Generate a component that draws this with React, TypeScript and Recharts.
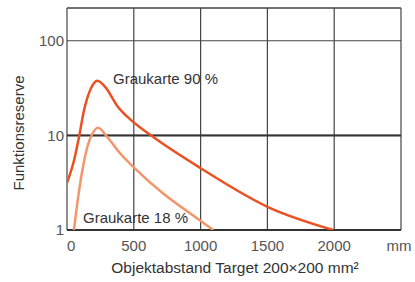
import { LineChart, Line, XAxis, YAxis, CartesianGrid, ReferenceLine } from 'recharts'

// Graukarte 90 % (log scale)
const grey90Distance = [0, 52, 90, 127, 177, 227, 290, 376, 480, 620, 1000, 1500, 1993]
const grey90Reserve = [3.15, 5.4, 9.6, 18.3, 31, 37.9, 32, 20.5, 14.5, 10.2, 4.5, 1.76, 1.0]

// Graukarte 18 %
const grey18Distance = [52, 77, 115, 152, 190, 232, 302, 400, 500, 720, 921, 1095]
const grey18Reserve = [1, 1.91, 4.28, 7.53, 10.4, 12.05, 9.6, 6.4, 4.6, 2.43, 1.5, 1]

const xTicks = [0, 500, 1000, 1500, 2000, 2500]
const yTicks = [1, 10, 100]
const yMax = 222

const grey90 = grey90Distance.map((d, i) => ({ d, r: grey90Reserve[i] }))
const grey18 = grey18Distance.map((d, i) => ({ d, r: grey18Reserve[i] }))

const FONT = '"Liberation Sans", Arial, sans-serif'
const TEXT = '#333'

function XTick(props: any) {
  const { x, y, payload } = props
  const v = payload.value
  return (
    <text
      x={x}
      y={y}
      dy="0.71em"
      textAnchor={v === 0 ? 'start' : 'middle'}
      fill="#555"
      fontSize={15}
      fontFamily={FONT}
    >
      {v === 2500 ? 'mm' : v}
    </text>
  )
}

export default function App() {
  return (
    <div style={{ position: 'absolute', left: 0, top: 0, width: 415, height: 282, background: '#fff' }}>
      <LineChart width={415} height={282} margin={{ top: 8, right: 14, bottom: 22, left: 0 }}>
        <CartesianGrid stroke="#444" strokeWidth={1.2} />
        <XAxis
          dataKey="d"
          type="number"
          domain={[0, 2500]}
          ticks={xTicks}
          tick={<XTick />}
          tickLine={false}
          tickSize={0}
          tickMargin={10}
          axisLine={false}
          height={30}
          allowDataOverflow
        />
        <YAxis
          dataKey="r"
          type="number"
          scale="log"
          domain={[1, yMax]}
          ticks={yTicks}
          tickLine={false}
          tickSize={0}
          tickMargin={3}
          axisLine={false}
          width={67}
          allowDataOverflow
          tick={{ fill: '#555', fontSize: 15, fontFamily: FONT }}
        />
        <ReferenceLine y={yMax} stroke="#444" strokeWidth={1.2} ifOverflow="visible" />
        <ReferenceLine y={10} stroke="#333" strokeWidth={2} />
        <ReferenceLine y={1} stroke="#333" strokeWidth={2} ifOverflow="visible" />
        <Line
          data={grey18}
          dataKey="r"
          type="monotone"
          stroke="#F4956B"
          strokeWidth={2.5}
          dot={false}
          isAnimationActive={false}
        />
        <Line
          data={grey90}
          dataKey="r"
          type="monotone"
          stroke="#EA5123"
          strokeWidth={2.5}
          dot={false}
          isAnimationActive={false}
        />
      </LineChart>
      <div style={{ position: 'absolute', left: 113, top: 71, fontFamily: FONT, fontSize: 15, lineHeight: '15px', color: TEXT, whiteSpace: 'nowrap' }}>
        Graukarte 90 %
      </div>
      <div style={{ position: 'absolute', left: 83, top: 210, fontFamily: FONT, fontSize: 15, lineHeight: '15px', color: TEXT, whiteSpace: 'nowrap' }}>
        Graukarte 18 %
      </div>
      <div style={{ position: 'absolute', left: 235, top: 260, transform: 'translateX(-50%)', fontFamily: FONT, fontSize: 15.5, lineHeight: '15px', color: TEXT, whiteSpace: 'nowrap' }}>
        Objektabstand Target 200×200 mm²
      </div>
      <div style={{ position: 'absolute', left: 18, top: 133, transform: 'translate(-50%, -50%) rotate(-90deg)', fontFamily: FONT, fontSize: 15, lineHeight: '15px', color: TEXT, whiteSpace: 'nowrap' }}>
        Funktionsreserve
      </div>
    </div>
  )
}
